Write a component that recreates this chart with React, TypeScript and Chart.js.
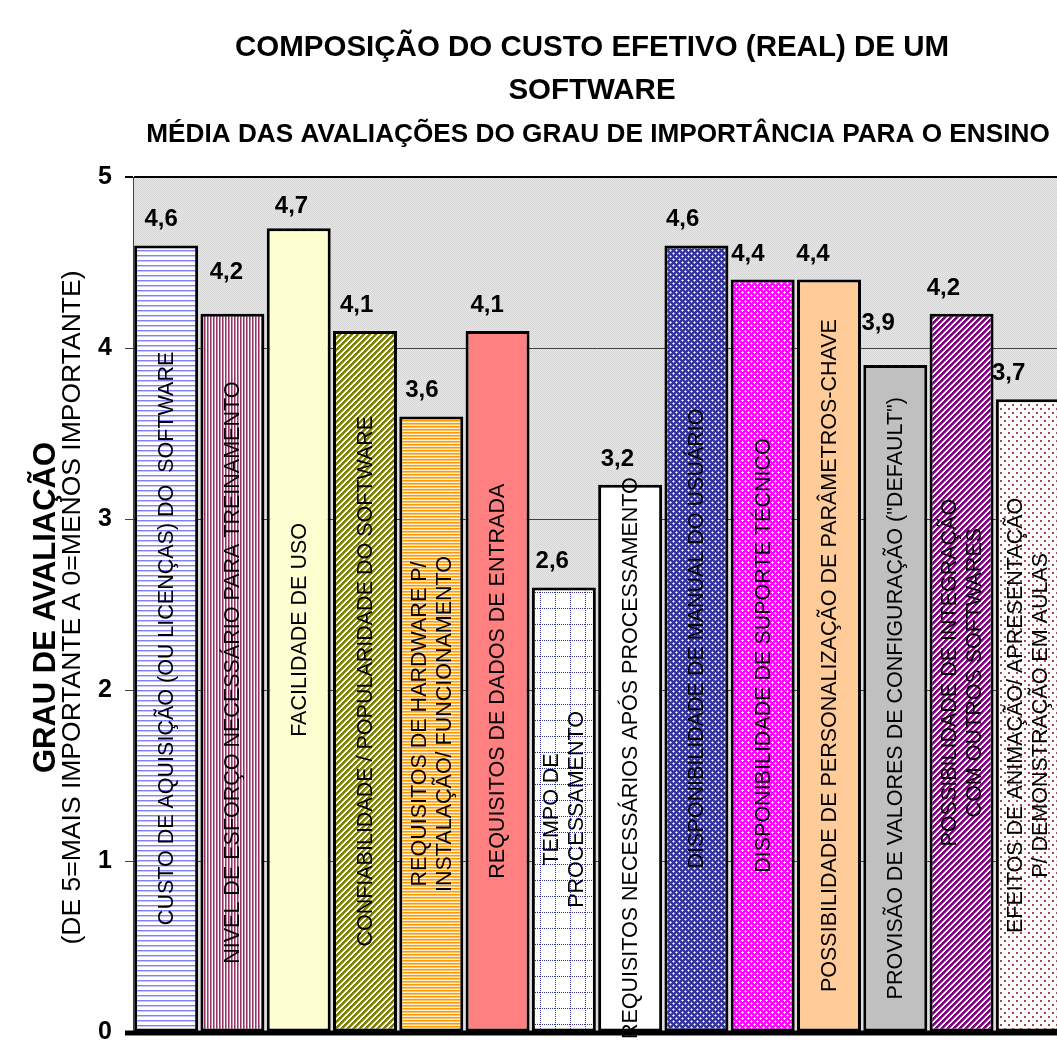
import React, { useEffect, useRef } from 'react';
import { Chart, registerables } from 'chart.js';

Chart.register(...registerables);

// ---------- data ----------
const categories: string[][] = [
  ['CUSTO DE AQUISIÇÃO (OU LICENÇAS) DO  SOFTWARE'],
  ['NIVEL DE ESFORÇO NECESSÁRIO PARA TREINAMENTO'],
  ['FACILIDADE DE USO'],
  ['CONFIABILIDADE / POPULARIDADE DO SOFTWARE'],
  ['REQUISITOS DE HARDWARE P/', 'INSTALAÇÃO/ FUNCIONAMENTO'],
  ['REQUISITOS DE DADOS DE ENTRADA'],
  ['TEMPO DE', 'PROCESSAMENTO'],
  ['REQUISITOS NECESSÁRIOS APÓS PROCESSAMENTO'],
  ['DISPONIBILIDADE DE MANUAL DO USUÁRIO'],
  ['DISPONIBILIDADE DE SUPORTE TÉCNICO'],
  ['POSSIBILIDADE DE PERSONALIZAÇÃO DE PARÂMETROS-CHAVE'],
  ['PROVISÃO DE VALORES DE CONFIGURAÇÃO ("DEFAULT")'],
  ['POSSIBILIDADE DE INTEGRAÇÃO', 'COM OUTROS SOFTWARES'],
  ['EFEITOS DE ANIMAÇÃO/ APRESENTAÇÃO', 'P/ DEMONSTRAÇÃO EM AULAS'],
];
const values: number[] = [4.6, 4.2, 4.7, 4.1, 3.6, 4.1, 2.6, 3.2, 4.6, 4.4, 4.4, 3.9, 4.2, 3.7];
const yMin = 0;
const yMax = 5;
const yStep = 1;
const titleLines: string[] = ['COMPOSIÇÃO DO CUSTO EFETIVO (REAL) DE UM', 'SOFTWARE'];
const subtitle = 'MÉDIA DAS AVALIAÇÕES DO GRAU DE IMPORTÂNCIA PARA O ENSINO';
const yTitle = 'GRAU DE AVALIAÇÃO';
const ySubtitle = '(DE 5=MAIS IMPORTANTE A 0=MENOS IMPORTANTE)';

// ---------- styles ----------
const FONT = "'Liberation Sans', Arial, Helvetica, sans-serif";

function tile(w: number, h: number, draw: (c: CanvasRenderingContext2D) => void): CanvasPattern | string {
  const cv = document.createElement('canvas');
  cv.width = w;
  cv.height = h;
  const c = cv.getContext('2d');
  if (!c) return '#ccc';
  draw(c);
  return c.createPattern(cv, 'repeat') || '#ccc';
}

function px(c: CanvasRenderingContext2D, x: number, y: number, col: string, w = 1, h = 1) {
  c.fillStyle = col;
  c.fillRect(x, y, w, h);
}

function makeFills(): (CanvasPattern | string)[] {
  const hBlue = tile(4, 5, (c) => {
    px(c, 0, 0, '#ffffff', 4, 5);
    px(c, 0, 0, '#8080ff', 4, 1);
    px(c, 0, 1, '#c8c8ff', 4, 1);
  });
  const vMaroon = tile(3, 4, (c) => {
    px(c, 0, 0, '#ffffff', 3, 4);
    px(c, 0, 0, '#993366', 1, 4);
    px(c, 1, 0, '#c48aa7', 1, 4);
  });
  const yellow = tile(8, 8, (c) => {
    px(c, 0, 0, '#ffffcc', 8, 8);
    px(c, 0, 0, '#ffffff');
    px(c, 4, 4, '#ffffff');
  });
  const diag = (col: string, mid: string, period: number, on: number) =>
    tile(period, period, (c) => {
      for (let y = 0; y < period; y++) {
        for (let x = 0; x < period; x++) {
          const m = (x + y) % period;
          px(c, x, y, m < on ? col : m === on ? mid : '#ffffff');
        }
      }
    });
  const olive = diag('#808000', '#b8b860', 6, 3);
  const hOrange = tile(4, 3, (c) => {
    px(c, 0, 0, '#ff9900', 4, 1);
    px(c, 0, 1, '#ffc266', 4, 1);
    px(c, 0, 2, '#fff2dd', 4, 1);
  });
  const blueGrid = tile(15, 16, (c) => {
    px(c, 0, 0, '#ffffff', 15, 16);
    for (let i = 0; i < 16; i += 2) {
      if (i < 15) px(c, i, 0, '#3333a0');
      px(c, 0, i, '#3333a0');
    }
  });
  const lattice = (base: string, soft: string) =>
    tile(6, 6, (c) => {
      px(c, 0, 0, base, 6, 6);
      const plus = (cx: number, cy: number) => {
        px(c, cx, cy, '#ffffff');
        px(c, (cx + 1) % 6, cy, soft);
        px(c, (cx + 5) % 6, cy, soft);
        px(c, cx, (cy + 1) % 6, soft);
        px(c, cx, (cy + 5) % 6, soft);
      };
      plus(1, 1);
      plus(4, 4);
    });
  const navy = lattice('#333399', '#b0b0d8');
  const magenta = lattice('#ff00ff', '#ffccff');
  const purple = diag('#800080', '#b060b0', 6, 3);
  const redDots = tile(8, 8, (c) => {
    px(c, 0, 0, '#ffffff', 8, 8);
    px(c, 0, 0, '#a84848', 2, 2);
    px(c, 4, 4, '#a84848', 2, 2);
  });
  return [
    hBlue, vMaroon, yellow, olive, hOrange, '#ff8080', blueGrid,
    '#ffffff', navy, magenta, '#ffcc99', '#c0c0c0', purple, redDots,
  ];
}

function makeBg(): CanvasPattern | string {
  return tile(2, 2, (c) => {
    px(c, 0, 0, '#e8e8e8', 2, 2);
    px(c, 0, 0, '#d4d4d4');
    px(c, 1, 1, '#d4d4d4');
  });
}

const fmt = (v: number) => v.toFixed(1).replace('.', ',');

export default function App() {
  const ref = useRef<HTMLCanvasElement | null>(null);

  useEffect(() => {
    const canvas = ref.current;
    if (!canvas) return;
    const fills = makeFills();
    const bg = makeBg();
    const labelRaise: Record<number, number> = { 1: 16, 2: -4, 11: 16 };

    const decor = {
      id: 'decor',
      beforeDraw(chart: any) {
        const { ctx, chartArea: a } = chart;
        ctx.save();
        ctx.fillStyle = '#ffffff';
        ctx.fillRect(0, 0, chart.width, chart.height);
        ctx.fillStyle = bg;
        ctx.fillRect(a.left, a.top, a.right - a.left, a.bottom - a.top);
        ctx.restore();
      },
      afterDatasetsDraw(chart: any) {
        const { ctx, chartArea: a } = chart;
        const meta = chart.getDatasetMeta(0);
        ctx.save();
        // category names inside bars
        ctx.fillStyle = '#000';
        ctx.font = `21.5px ${FONT}`;
        ctx.textAlign = 'center';
        ctx.textBaseline = 'middle';
        meta.data.forEach((bar: any, i: number) => {
          const lines = categories[i];
          const cy = (bar.y + bar.base) / 2;
          ctx.save();
          ctx.translate(bar.x, cy);
          ctx.rotate(-Math.PI / 2);
          const lh = 25;
          lines.forEach((ln, k) => {
            ctx.fillText(ln, 0, (k - (lines.length - 1) / 2) * lh + 1);
          });
          ctx.restore();
        });
        // value labels
        ctx.font = `bold 24px ${FONT}`;
        ctx.textBaseline = 'alphabetic';
        meta.data.forEach((bar: any, i: number) => {
          const lift = 19 + (labelRaise[i] || 0);
          ctx.fillText(fmt(values[i]), bar.x - 5 - 1.1 * i, bar.y - lift);
        });
        // thick category axis line
        ctx.strokeStyle = '#000';
        ctx.lineWidth = 5;
        ctx.beginPath();
        ctx.moveTo(a.left - 8, a.bottom + 1);
        ctx.lineTo(chart.width, a.bottom + 1);
        ctx.stroke();
        ctx.restore();
      },
      afterDraw(chart: any) {
        const { ctx, chartArea: a } = chart;
        ctx.save();
        ctx.fillStyle = '#000';
        ctx.textAlign = 'center';
        ctx.textBaseline = 'alphabetic';
        ctx.font = `bold 29.5px ${FONT}`;
        ctx.fillText(titleLines[0], 592, 56);
        ctx.fillText(titleLines[1], 592, 99);
        ctx.font = `bold 26.2px ${FONT}`;
        ctx.fillText(subtitle, 598, 142);
        const cy = (a.top + a.bottom) / 2 + 3;
        ctx.save();
        ctx.translate(55, cy);
        ctx.rotate(-Math.PI / 2);
        ctx.font = `bold 31px ${FONT}`;
        ctx.fillText(yTitle, 0, 0);
        ctx.restore();
        ctx.save();
        ctx.translate(80, cy);
        ctx.rotate(-Math.PI / 2);
        ctx.font = `26.5px ${FONT}`;
        ctx.fillText(ySubtitle, 0, 0);
        ctx.restore();
        ctx.restore();
      },
    };

    const chart = new Chart(canvas, {
      type: 'bar',
      data: {
        labels: categories.map((c) => c.join(' ')),
        datasets: [
          {
            data: values,
            backgroundColor: fills as any,
            borderColor: '#000000',
            borderWidth: 3,
            borderSkipped: false,
            barPercentage: 0.965,
            categoryPercentage: 1,
          },
        ],
      },
      options: {
        responsive: false,
        animation: false,
        devicePixelRatio: 1,
        layout: { padding: { top: 177, bottom: 20, left: 0, right: 7 } },
        plugins: {
          legend: { display: false },
          title: { display: false },
          tooltip: { enabled: false },
        },
        scales: {
          x: {
            display: false,
            grid: { display: false },
          },
          y: {
            min: yMin,
            max: yMax,
            afterFit: (scale: any) => {
              scale.width = 133;
            },
            ticks: {
              stepSize: yStep,
              color: '#000',
              font: { family: FONT, size: 25, weight: 'bold' },
              padding: 13,
            },
            grid: {
              color: (c: any) => (c.tick && c.tick.value === yMax ? '#000000' : '#404040'),
              lineWidth: (c: any) => (c.tick && c.tick.value === yMax ? 2 : 1),
              tickLength: 8,
              drawOnChartArea: true,
            },
            border: { display: true, color: '#404040', width: 1 },
          },
        },
      },
      plugins: [decor],
    });
    return () => chart.destroy();
  }, []);

  return (
    <div
      style={{
        position: 'fixed',
        left: 0,
        top: 0,
        width: 1057,
        height: 1048,
        overflow: 'hidden',
        background: '#fff',
      }}
    >
      <canvas ref={ref} width={1068} height={1060} style={{ display: 'block', width: 1068, height: 1060 }} />
    </div>
  );
}
